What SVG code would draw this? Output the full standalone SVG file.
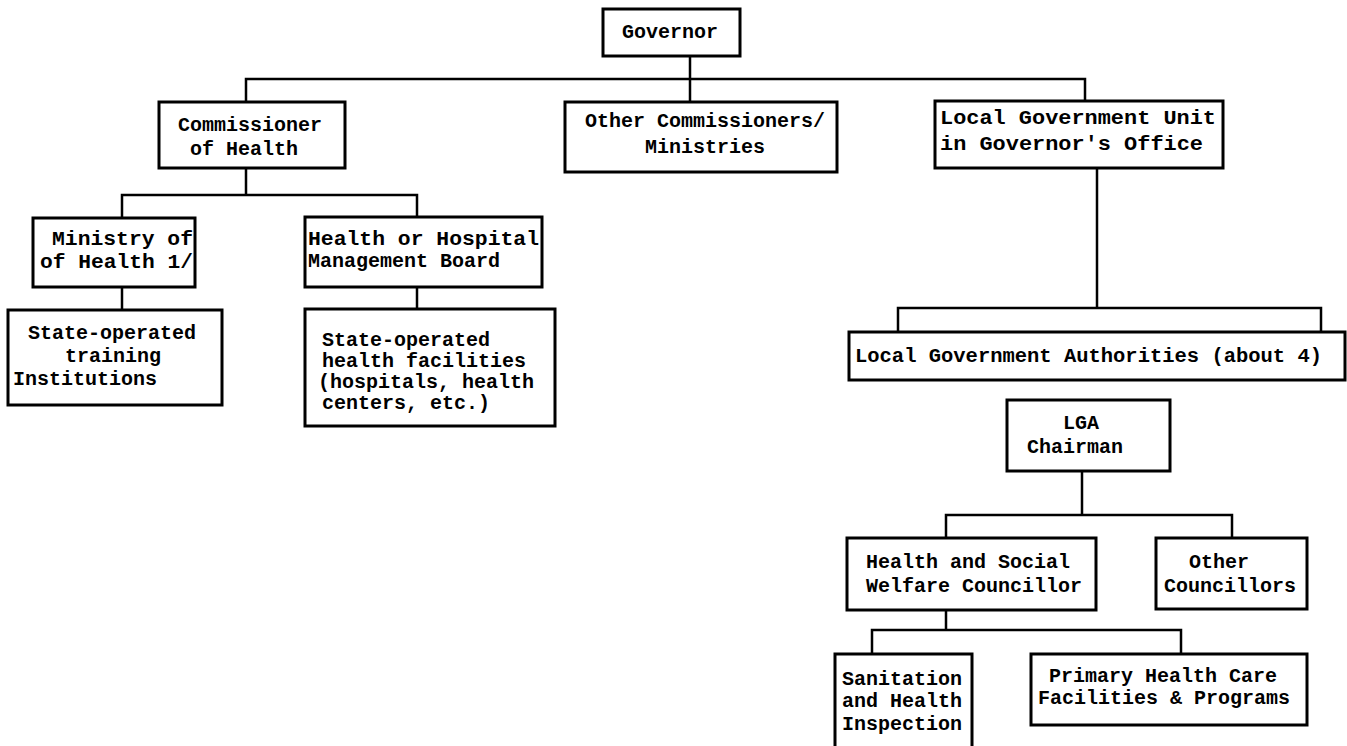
<svg xmlns="http://www.w3.org/2000/svg" width="1347" height="746" viewBox="0 0 1347 746">
<style>
.box{fill:#fff;stroke:#000;stroke-width:3}
.ln{fill:none;stroke:#000;stroke-width:2.5}
text{font-family:"Liberation Mono","DejaVu Sans Mono",monospace;font-weight:bold;font-size:20px;fill:#000}
</style>
<rect width="1347" height="746" fill="#fff"/>
<g id="connectors">
<path class="ln" d="M690,56 V79 M246,102 V79 H1085 V101 M690,79 V102"/>
<path class="ln" d="M246,168 V195 M122,218 V195 H417 V217"/>
<path class="ln" d="M122,287 V310"/>
<path class="ln" d="M417,287 V309"/>
<path class="ln" d="M1097,168 V308 M898,332 V308 H1321 V332"/>
<path class="ln" d="M1082,471 V515 M946,538 V515 H1232 V538"/>
<path class="ln" d="M946,610 V630 M872,654 V630 H1181 V654"/>
</g>
<g id="governor">
<rect class="box" x="603" y="9" width="137" height="47"/>
<text x="622" y="38">Governor</text>
</g>
<g id="commissioner-health">
<rect class="box" x="159" y="102" width="186" height="66"/>
<text x="178" y="131">Commissioner</text>
<text x="190" y="155">of Health</text>
</g>
<g id="other-commissioners">
<rect class="box" x="565" y="102" width="272" height="70"/>
<text x="585" y="127">Other Commissioners/</text>
<text x="645" y="153">Ministries</text>
</g>
<g id="local-gov-unit">
<rect class="box" x="935" y="101" width="288" height="67"/>
<text x="940" y="124" textLength="276" lengthAdjust="spacingAndGlyphs">Local Government Unit</text>
<text x="940" y="150" textLength="263" lengthAdjust="spacingAndGlyphs">in Governor's Office</text>
</g>
<g id="ministry-health">
<rect class="box" x="33" y="218" width="162" height="69"/>
<text x="52" y="245" textLength="141" lengthAdjust="spacingAndGlyphs">Ministry of</text>
<text x="40" y="268" textLength="153" lengthAdjust="spacingAndGlyphs">of Health 1/</text>
</g>
<g id="health-board">
<rect class="box" x="305" y="217" width="237" height="70"/>
<text x="308" y="245" textLength="231" lengthAdjust="spacingAndGlyphs">Health or Hospital</text>
<text x="308" y="267">Management Board</text>
</g>
<g id="state-training">
<rect class="box" x="8" y="310" width="214" height="95"/>
<text x="28" y="339">State-operated</text>
<text x="65" y="362">training</text>
<text x="13" y="385">Institutions</text>
</g>
<g id="state-health-facilities">
<rect class="box" x="305" y="309" width="250" height="117"/>
<text x="322" y="346">State-operated</text>
<text x="322" y="367">health facilities</text>
<text x="318" y="388">(hospitals, health</text>
<text x="322" y="409">centers, etc.)</text>
</g>
<g id="lga-authorities">
<rect class="box" x="849" y="332" width="496" height="48"/>
<text x="855" y="362" textLength="467" lengthAdjust="spacingAndGlyphs">Local Government Authorities (about 4)</text>
</g>
<g id="lga-chairman">
<rect class="box" x="1007" y="400" width="163" height="71"/>
<text x="1063" y="429">LGA</text>
<text x="1027" y="453">Chairman</text>
</g>
<g id="health-social-councillor">
<rect class="box" x="847" y="538" width="249" height="72"/>
<text x="866" y="568">Health and Social</text>
<text x="866" y="592">Welfare Councillor</text>
</g>
<g id="other-councillors">
<rect class="box" x="1156" y="538" width="151" height="71"/>
<text x="1189" y="568">Other</text>
<text x="1164" y="592">Councillors</text>
</g>
<g id="sanitation">
<rect class="box" x="835" y="654" width="137" height="100"/>
<text x="842" y="685">Sanitation</text>
<text x="842" y="707">and Health</text>
<text x="842" y="730">Inspection</text>
</g>
<g id="primary-health-care">
<rect class="box" x="1031" y="654" width="276" height="71"/>
<text x="1049" y="682">Primary Health Care</text>
<text x="1038" y="704">Facilities &amp; Programs</text>
</g>
</svg>
